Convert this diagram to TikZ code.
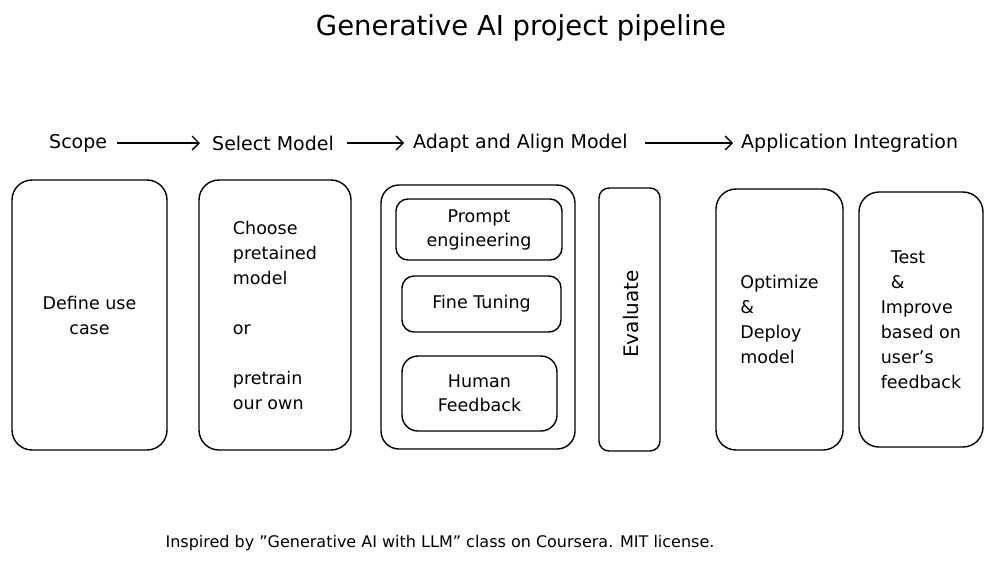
\documentclass[tikz,border=0pt]{standalone}
\usepackage{fontspec}
\setmainfont{DejaVu Sans}
\usetikzlibrary{arrows.meta}
\tikzset{>={Straight Barb[length=7pt,width=14pt]}}
\tikzset{
  stage/.style={font=\fontsize{19}{22}\selectfont, inner sep=0pt},
  blk/.style={draw, line width=1.4pt, rounded corners=20pt, align=left,
    font=\fontsize{17.5}{25}\selectfont, inner sep=0pt},
  sub/.style={draw, line width=1.4pt, rounded corners=12pt, align=center,
    font=\fontsize{17.5}{24}\selectfont, inner sep=0pt},
  flow/.style={->, line width=1.4pt}
}
\begin{document}
\begin{tikzpicture}[x=1pt, y=-1pt]
      \useasboundingbox (0,0) rectangle (993,563);

      \node [font=\fontsize{27.5}{30}\selectfont] (title) at (521,28)
      {Generative AI project pipeline};

      \node [stage, anchor=west] (scope) at (49,143) {Scope};
      \node [stage, anchor=west] (select) at (212,143) {Select Model};
      \node [stage, anchor=west] (adapt) at (413,143) {Adapt and Align Model};
      \node [stage, anchor=west] (integ) at (741,143) {Application Integration};

      \coordinate (a0) at (117,143);
      \coordinate (b0) at (347,143);
      \coordinate (c0) at (645,143);

      \draw [flow] (a0) -- (select.west -| 200,0);
      \draw [flow] (b0) -- (adapt.west -| 404,0);
      \draw [flow] (c0) -- (integ.west -| 733,0);

      \node [blk, minimum width=155, minimum height=270, align=center] (define)
      at (89.5,315) {Define use\\case};

      \node [blk, minimum width=152, minimum height=270] (choose)
      at (275,315) {Choose\\pretained\\model\\[25pt]or\\[25pt]pretrain\\our own};

      \node [blk, minimum width=194, minimum height=264, rounded corners=18pt]
      (align) at (478,317) {};

      \node [sub, minimum width=166, minimum height=61] (prompt)
      at (479,229.5) {Prompt\\engineering};

      \node [sub, minimum width=159, minimum height=56] (tune)
      at (481.5,304) {Fine Tuning};

      \node [sub, minimum width=155, minimum height=75, rounded corners=16pt]
      (human) at (479.5,393.5) {Human\\Feedback};

      \node [blk, minimum width=61, minimum height=263, rounded corners=10pt]
      (eval) at (629.5,319.5) {};
      \node [font=\fontsize{20}{22}\selectfont, rotate=90] (evaltxt)
      at (631,314) {Evaluate};

      \node [blk, minimum width=127, minimum height=261] (deploy)
      at (779.5,319.5) {Optimize\\\&\\Deploy\\model};

      \node [blk, minimum width=124, minimum height=255] (test)
      at (921,319.5) {\hspace{10pt}Test\\\hspace{10pt}\&\\Improve\\based on\\user's\\feedback};

      \node [font=\fontsize{16}{18}\selectfont] (note) at (440,543)
      {Inspired by \symbol{"22}Generative AI with LLM\symbol{"22} class on Coursera. MIT license.};
  \end{tikzpicture}
\end{document}
